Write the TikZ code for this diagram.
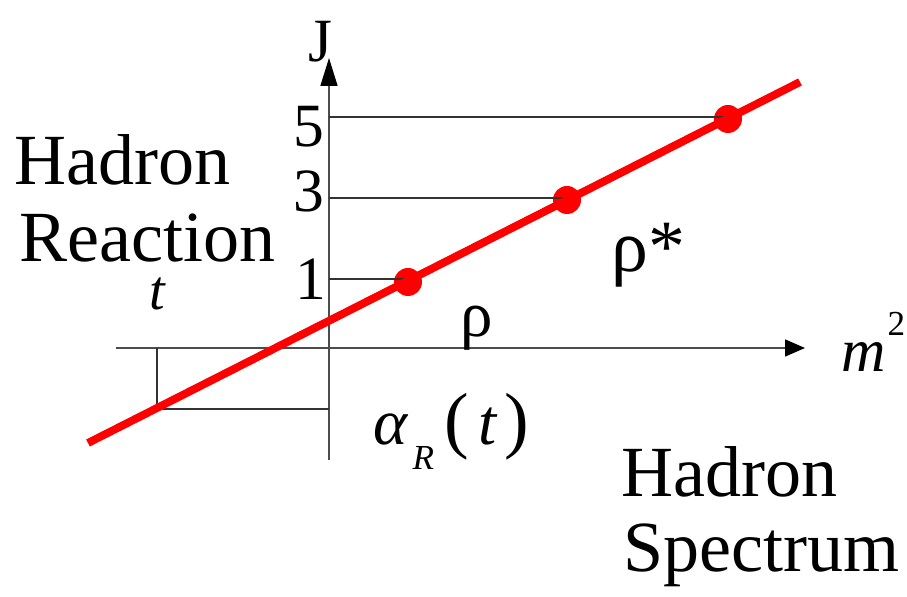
\documentclass[tikz,border=0pt]{standalone}
\usepackage{fontspec}
\setmainfont{Liberation Serif}
\usetikzlibrary{arrows.meta}

\tikzset{
  word/.style={font=\fontsize{41}{43}\selectfont, inner sep=0pt},
  level/.style={font=\fontsize{35}{37}\selectfont, inner sep=0pt},
  axis/.style={draw=black!70, line width=0.9pt},
  guide/.style={draw=black!80, line width=0.6pt},
  trajectory/.style={draw=red, line width=4.5pt},
  state/.style={circle, fill=red, inner sep=0pt, minimum size=0.56cm},
}

\begin{document}
\begin{tikzpicture}[x=0.02cm, y=-0.02cm]
        \useasboundingbox (0,0) rectangle (907,597);

        % axes
        \coordinate (xl) at (116,348);
        \coordinate (xr) at (805,348);
        \coordinate (yb) at (329,460);
        \coordinate (yt) at (329,58);
        \draw[axis, -{Triangle[length=11.3pt, width=9.6pt, color=black]}] (xl) -- (xr);
        \draw[axis, -{Triangle[length=15.8pt, width=9.6pt, color=black]}] (yb) -- (yt);

        \node[level, anchor=base] (j) at (320,62) {J};
        \node[anchor=base west, inner sep=0pt] (m2) at (841,372)
            {\fontsize{35}{37}\selectfont\itshape m\hspace{1pt}\raisebox{21pt}{\fontsize{20}{22}\selectfont\upshape 2}};

        % levels on the J axis
        \coordinate (j5) at (329,117);
        \coordinate (j3) at (329,198);
        \coordinate (j1) at (329,279);
        \node[level, anchor=base east] (n5) at (325,147) {5};
        \node[level, anchor=base east] (n3) at (325,212) {3};
        \node[level, anchor=base east] (n1) at (327,300) {1};

        % trajectory and its states
        \coordinate (ra) at (88,443);
        \coordinate (rb) at (800,82);
        \node[state] (s5) at (728,119) {};
        \node[state] (s3) at (567,200) {};
        \node[state] (s1) at (408,282) {};

        \draw[guide] (j5) -- (j5 -| s5);
        \draw[guide] (j3) -- (j3 -| s3);
        \draw[guide] (j1) -- (j1 -| s1);

        % scattering region
        \coordinate (tx) at (157,348);
        \coordinate (tp) at (157,409);
        \coordinate (ty) at (329,409);
        \draw[guide] (tx) -- (tp) -- (ty);

        \draw[trajectory] (ra) -- (rb);

        \node[anchor=base, inner sep=0pt] (t) at (157,310)
            {\fontsize{32}{34}\selectfont\itshape t};
        \node[anchor=base, inner sep=0pt] (rho) at (477,337)
            {\fontsize{37}{39}\selectfont ρ};
        \node[anchor=base west, inner sep=0pt] (rhostar) at (611,272)
            {\fontsize{42}{44}\selectfont ρ*};
        \node[anchor=base west, inner sep=0pt] (alpha) at (373,445)
            {\fontsize{37}{39}\selectfont\itshape α\hspace{3pt}\raisebox{-14pt}{\fontsize{20}{22}\selectfont R}\hspace{6pt}{\fontsize{42}{44}\selectfont\upshape (}\hspace{5pt}t\hspace{5pt}{\fontsize{42}{44}\selectfont\upshape )}};

        % labels
        \node[word, anchor=base west] (hadronl) at (14,185) {Hadron};
        \node[word, anchor=base west] (reaction) at (19,262) {Reaction};
        \node[word, anchor=base west] (hadronr) at (621,497) {Hadron};
        \node[word, anchor=base west] (spectrum) at (623,572) {Spectrum};
    \end{tikzpicture}
\end{document}
